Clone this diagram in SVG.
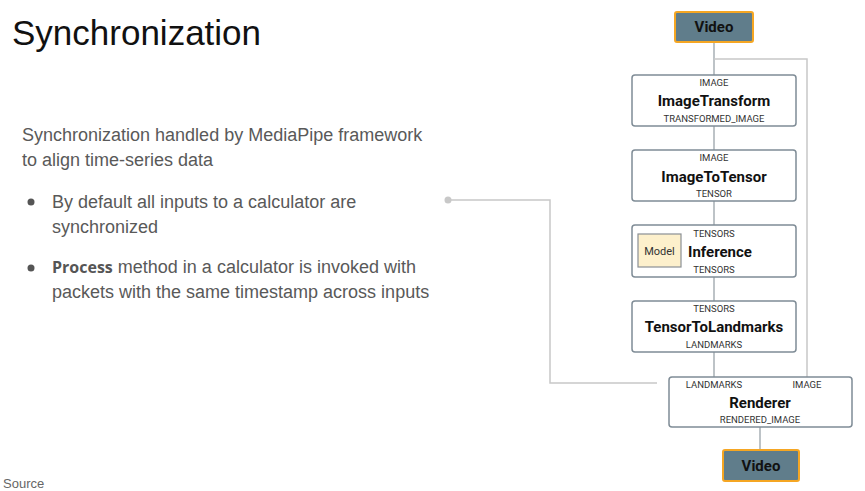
<svg xmlns="http://www.w3.org/2000/svg" width="865" height="491" viewBox="0 0 865 491">
<style>
.title{font-family:"Liberation Sans",Arial,sans-serif;font-size:35px;fill:#111}
.body{font-family:"Liberation Sans",Arial,sans-serif;font-size:18px;fill:#595959}
.node{fill:#fff;stroke:#7f8c96;stroke-width:1.5}
.iofill{fill:#607d8b}
.lbl{font-family:Roboto,"Liberation Sans",sans-serif;font-size:9.5px;fill:#333;text-anchor:middle}
.name{font-family:Roboto,"Liberation Sans",sans-serif;font-size:15px;font-weight:bold;fill:#111;text-anchor:middle}
.edge{fill:none;stroke:#9aa3a9;stroke-width:1.3}
.edge2{fill:none;stroke:#c8c8c8;stroke-width:1.5}
</style>
<rect width="865" height="491" fill="#fff"/>
<text class="title" x="12" y="45">Synchronization</text>
<text class="body" x="22" y="141">Synchronization handled by MediaPipe framework</text>
<text class="body" x="22" y="166">to align time-series data</text>
<circle cx="31" cy="202" r="3.5" fill="#555"/>
<text class="body" x="52" y="208">By default all inputs to a calculator are</text>
<text class="body" x="52" y="233">synchronized</text>
<circle cx="31" cy="268" r="3.5" fill="#555"/>
<text class="body" x="52" y="273"><tspan font-family="'Open Sans',sans-serif" font-weight="bold" font-size="16px" fill="#555">Process</tspan> method in a calculator is invoked with</text>
<text class="body" x="52" y="298">packets with the same timestamp across inputs</text>
<text font-family="'Liberation Sans',Arial,sans-serif" font-size="13px" fill="#666" x="3" y="488">Source</text>
<g id="connectors">
<circle cx="448" cy="200" r="3.5" fill="#c8c8c8"/>
<path class="edge2" d="M448 200 H550 V383 H657"/>
<path class="edge" d="M714 42 V75"/>
<path class="edge2" d="M714 59 H807 V377"/>
<path class="edge" d="M714 126 V150"/>
<path class="edge" d="M714 201 V225"/>
<path class="edge" d="M714 277 V301"/>
<path class="edge" d="M714 352 V377"/>
<path class="edge" d="M760 427 V450"/>
</g>
<g id="video-in">
<rect x="675" y="12" width="78" height="30" rx="2" class="iofill" stroke="#f5a623" stroke-width="2"/>
<text class="name" x="714" y="32">Video</text>
</g>
<g id="imagetransform">
<rect x="632" y="75" width="164" height="51" rx="3" class="node"/>
<text class="lbl" x="714" y="86">IMAGE</text>
<text class="name" x="714" y="106">ImageTransform</text>
<text class="lbl" x="714" y="122">TRANSFORMED_IMAGE</text>
</g>
<g id="imagetotensor">
<rect x="632" y="150" width="164" height="51" rx="3" class="node"/>
<text class="lbl" x="714" y="161">IMAGE</text>
<text class="name" x="714" y="182">ImageToTensor</text>
<text class="lbl" x="714" y="197">TENSOR</text>
</g>
<g id="inference">
<rect x="632" y="225" width="164" height="52" rx="3" class="node"/>
<text class="lbl" x="714" y="237">TENSORS</text>
<text class="name" x="720" y="257">Inference</text>
<text class="lbl" x="714" y="273">TENSORS</text>
<rect x="638" y="234" width="43" height="33" fill="#fdf0cc" stroke="#8a8f94" stroke-width="1.2"/>
<text x="659.5" y="255" font-family="Roboto,'Liberation Sans',sans-serif" font-size="11px" fill="#333" text-anchor="middle">Model</text>
</g>
<g id="tensortolandmarks">
<rect x="632" y="301" width="164" height="51" rx="3" class="node"/>
<text class="lbl" x="714" y="312">TENSORS</text>
<text class="name" x="714" y="332">TensorToLandmarks</text>
<text class="lbl" x="714" y="348">LANDMARKS</text>
</g>
<g id="renderer">
<rect x="669" y="377" width="183" height="50" rx="3" class="node"/>
<text class="lbl" x="714" y="388">LANDMARKS</text>
<text class="lbl" x="807" y="388">IMAGE</text>
<text class="name" x="760" y="408">Renderer</text>
<text class="lbl" x="760" y="423">RENDERED_IMAGE</text>
</g>
<g id="video-out">
<rect x="723" y="450" width="76" height="31" rx="2" class="iofill" stroke="#f5a623" stroke-width="2"/>
<text class="name" x="761" y="471">Video</text>
</g>
</svg>
